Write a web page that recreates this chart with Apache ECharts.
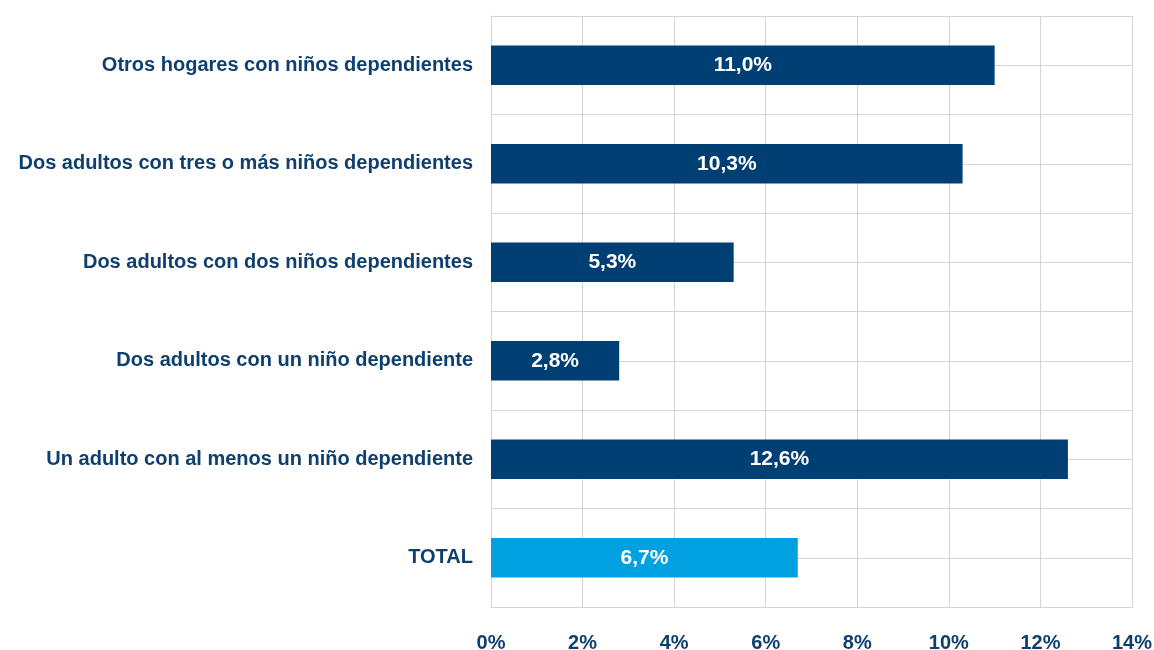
<!DOCTYPE html>
<html>
<head>
<meta charset="utf-8">
<script src="https://cdn.jsdelivr.net/npm/echarts@6/dist/echarts.min.js"></script>
<style>html,body{margin:0;padding:0;background:#fff;}#c{width:1154px;height:650px;}</style>
</head>
<body>
<div id="c"></div>
<script>
var categories = [
  "Otros hogares con niños dependientes",
  "Dos adultos con tres o más niños dependientes",
  "Dos adultos con dos niños dependientes",
  "Dos adultos con un niño dependiente",
  "Un adulto con al menos un niño dependiente",
  "TOTAL"
];
var values = [11.0, 10.3, 5.3, 2.8, 12.6, 6.7];
var barColors = ["#003f73", "#003f73", "#003f73", "#003f73", "#003f73", "#00a0e1"];
var xTicks = [0, 2, 4, 6, 8, 10, 12, 14];

var textColor = "#0e3f6e";
var gridColor = "#d4d4d4";
var font = "'Liberation Sans', Arial, sans-serif";

var chart = echarts.init(document.getElementById('c'));
chart.setOption({
  animation: false,
  grid: {left: 491, right: 22, top: 16, bottom: 43, containLabel: false, outerBoundsMode: 'none'},
  xAxis: {
    type: 'value', min: xTicks[0], max: xTicks[xTicks.length - 1], interval: 2,
    axisLine: {show: true, lineStyle: {color: gridColor, width: 1}},
    axisTick: {show: false},
    splitLine: {show: true, lineStyle: {color: gridColor, width: 1}},
    axisLabel: {color: textColor, fontFamily: font, fontWeight: 'bold', fontSize: 20, margin: 26,
      formatter: function (v) { return v + '%'; }}
  },
  yAxis: [{
    type: 'category', data: categories, inverse: true,
    axisLine: {show: true, lineStyle: {color: gridColor, width: 1}},
    axisTick: {show: false},
    splitLine: {show: false},
    axisLabel: {color: textColor, fontFamily: font, fontWeight: 'bold', fontSize: 20, margin: 18}
  }, {
    type: 'value', min: 0, max: 12, interval: 1, position: 'left',
    axisLine: {show: false}, axisTick: {show: false}, axisLabel: {show: false},
    splitLine: {show: true, lineStyle: {color: gridColor, width: 1}}
  }],
  series: [{
    type: 'bar', yAxisIndex: 0,
    barWidth: '40%',
    data: values.map(function (v, i) { return {value: v, itemStyle: {color: barColors[i]}}; }),
    label: {
      show: true, position: 'inside', color: '#fff', fontFamily: font, fontWeight: 'bold', fontSize: 21,
      formatter: function (p) { return p.value.toFixed(1).replace('.', ',') + '%'; }
    }
  }]
});
</script>
</body>
</html>
